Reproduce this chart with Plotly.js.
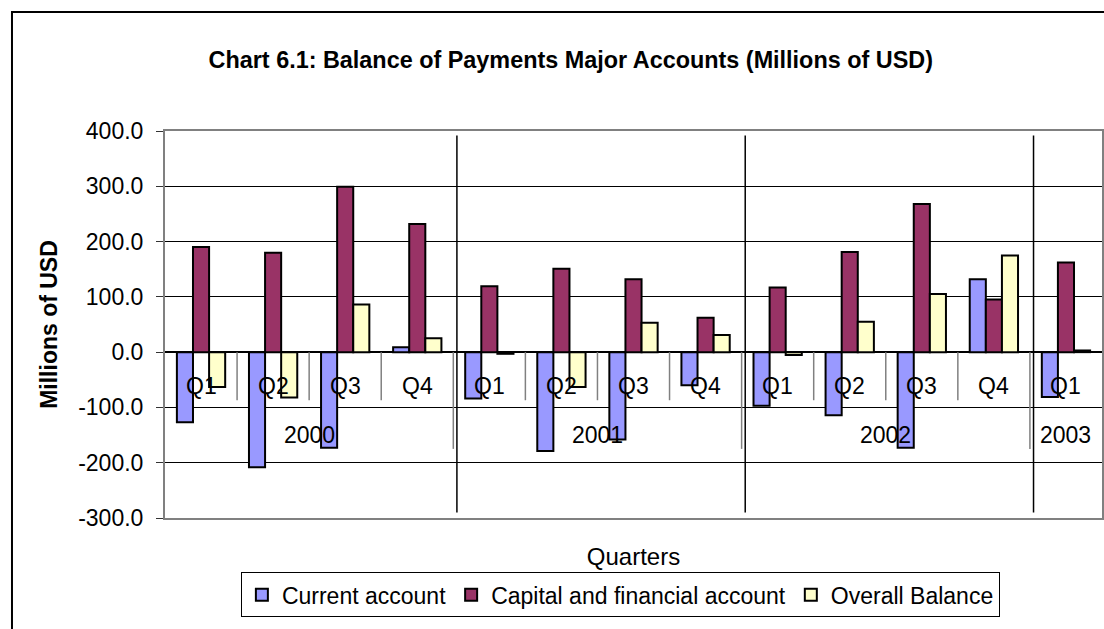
<!DOCTYPE html>
<html>
<head>
<meta charset="utf-8">
<script src="https://cdn.plot.ly/plotly-3.0.1.min.js"></script>
<style>html,body{margin:0;padding:0;background:#fff;}#chart{width:1104px;height:629px;}</style>
</head>
<body>
<div id="chart"></div>
<script>
// ---- data ----
const quarters = ['Q1','Q2','Q3','Q4','Q1','Q2','Q3','Q4','Q1','Q2','Q3','Q4','Q1'];
const years = ['2000','2000','2000','2000','2001','2001','2001','2001','2002','2002','2002','2002','2003'];
const currentAccount = [-127, -208, -173, 9, -84, -179, -158, -60, -97, -114, -173, 132, -81];
const capitalFinancial = [190, 180, 299, 232, 119, 151, 132, 62, 117, 181, 268, 95, 162];
const overallBalance = [-63, -82, 86, 25, -3, -63, 53, 31, -5, 55, 105, 175, 3];
const seriesNames = ['Current account', 'Capital and financial account', 'Overall Balance'];
const seriesColors = ['#9999FF', '#993366', '#FFFFCC'];
const yTickVals = [-300, -200, -100, 0, 100, 200, 300, 400];
const yTickText = ['-300.0', '-200.0', '-100.0', '0.0', '100.0', '200.0', '300.0', '400.0'];

const cats = quarters.map((q, i) => years[i] + ' ' + q);
const font = 'Arial, "Liberation Sans", sans-serif';

const traces = [currentAccount, capitalFinancial, overallBalance].map((vals, k) => ({
  type: 'bar',
  x: cats,
  y: vals,
  name: seriesNames[k],
  marker: {color: seriesColors[k], line: {color: '#000', width: 2}},
  hoverinfo: 'x+y+name'
}));

// category label annotations and divider shapes
const annotations = [];
const shapes = [];
cats.forEach((c, i) => {
  annotations.push({xref: 'x', yref: 'y', x: i, y: -61, text: quarters[i], showarrow: false,
    font: {family: font, size: 23, color: '#000'}});
});
// year groups
const groups = [];
years.forEach((y, i) => {
  if (!groups.length || groups[groups.length - 1].year !== y) groups.push({year: y, start: i, end: i});
  else groups[groups.length - 1].end = i;
});
groups.forEach(g => {
  annotations.push({xref: 'x', yref: 'y', x: (g.start + g.end) / 2, y: -150, text: g.year, showarrow: false,
    font: {family: font, size: 23, color: '#000'}});
});
// quarter dividers (short grey)
for (let i = 1; i < cats.length; i++) {
  const yearBoundary = years[i] !== years[i - 1];
  shapes.push({type: 'line', xref: 'x', yref: 'y', x0: i - 0.5, x1: i - 0.5, y0: 0, y1: yearBoundary ? -175 : -87,
    line: {color: '#808080', width: 1.5}});
  if (yearBoundary) {
    shapes.push({type: 'line', xref: 'x', yref: 'y', x0: i - 0.45, x1: i - 0.45, y0: 392, y1: -290,
      line: {color: '#000', width: 1.5}});
  }
}
// outer frame
shapes.push({type: 'rect', xref: 'paper', yref: 'paper', x0: -0.1633, x1: 1.2, y0: -0.4, y1: 1.3075,
  line: {color: '#000', width: 2}, layer: 'below'});

const layout = {
  width: 1104, height: 629,
  margin: {l: 165, r: 2, t: 131, b: 111},
  paper_bgcolor: '#fff', plot_bgcolor: '#fff',
  font: {family: font, color: '#000'},
  title: {text: '<b>Chart 6.1: Balance of Payments Major Accounts (Millions of USD)</b>',
    font: {family: font, size: 23.4, color: '#000'}, x: 0.517, xanchor: 'center', y: 0.905, yanchor: 'middle'},
  barmode: 'group', bargap: 0.33, bargroupgap: 0,
  xaxis: {type: 'category', range: [-0.5, 12.5], showticklabels: false, showgrid: false, zeroline: false,
    showline: true, mirror: true, linecolor: '#808080', linewidth: 2, ticks: '',
    title: {text: 'Quarters', font: {family: font, size: 24, color: '#000'}, standoff: 29}},
  yaxis: {range: [-300, 400], tickvals: yTickVals, ticktext: yTickText, showgrid: true, gridcolor: '#000', gridwidth: 1,
    zeroline: true, zerolinecolor: '#000', zerolinewidth: 1.5,
    showline: true, mirror: true, linecolor: '#808080', linewidth: 2,
    ticks: 'outside', ticklen: 7, tickcolor: '#333', ticklabelstandoff: 8,
    tickfont: {family: font, size: 23, color: '#000'},
    title: {text: '<b>Millions of USD</b>', font: {family: font, size: 23, color: '#000'}, standoff: 14}},
  legend: {orientation: 'h', x: 0.486, xanchor: 'center', y: -0.14, yanchor: 'top',
    bordercolor: '#000', borderwidth: 1, font: {family: font, size: 23, color: '#000'},
    itemwidth: 30, traceorder: 'normal'},
  showlegend: true,
  annotations: annotations,
  shapes: shapes
};

Plotly.newPlot('chart', traces, layout, {displayModeBar: false, staticPlot: true});
</script>
</body>
</html>
